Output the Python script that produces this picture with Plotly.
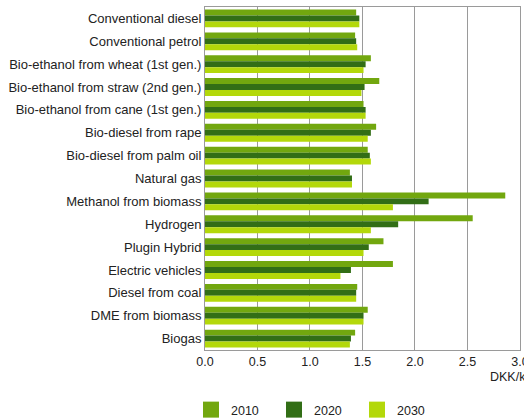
import plotly.graph_objects as go

categories = [
    "Conventional diesel",
    "Conventional petrol",
    "Bio-ethanol from wheat (1st gen.)",
    "Bio-ethanol from straw (2nd gen.)",
    "Bio-ethanol from cane (1st gen.)",
    "Bio-diesel from rape",
    "Bio-diesel from palm oil",
    "Natural gas",
    "Methanol from biomass",
    "Hydrogen",
    "Plugin Hybrid",
    "Electric vehicles",
    "Diesel from coal",
    "DME from biomass",
    "Biogas",
]
v2010 = [1.44, 1.43, 1.58, 1.66, 1.51, 1.63, 1.55, 1.38, 2.86, 2.55, 1.70, 1.79, 1.45, 1.55, 1.43]
v2020 = [1.47, 1.44, 1.53, 1.52, 1.53, 1.58, 1.57, 1.40, 2.13, 1.84, 1.56, 1.39, 1.44, 1.51, 1.39]
v2030 = [1.47, 1.45, 1.51, 1.49, 1.53, 1.55, 1.58, 1.40, 1.79, 1.58, 1.51, 1.29, 1.44, 1.51, 1.38]
series_names = ["2010", "2020", "2030"]
colors = ["#72a70f", "#326e16", "#b3d80a"]
x_ticks = [0.0, 0.5, 1.0, 1.5, 2.0, 2.5, 3.0]
unit_label = "DKK/km"

fig = go.Figure()
for name, vals, col in zip(series_names, [v2010, v2020, v2030], colors):
    fig.add_trace(go.Bar(
        y=categories, x=vals, name=name, orientation="h",
        marker=dict(color=col, line=dict(width=0)),
        showlegend=False,
    ))
    fig.add_trace(go.Scatter(
        x=[None], y=[None], mode="markers", name=name,
        marker=dict(symbol="square", size=20, color=col, line=dict(width=0)),
    ))

fig.update_layout(
    width=524, height=420,
    margin=dict(l=205, r=4, t=7, b=70, autoexpand=False),
    paper_bgcolor="white", plot_bgcolor="white",
    barmode="group", bargap=0.22, bargroupgap=0,
    font=dict(family="Liberation Sans, Arial, sans-serif", size=13, color="#222"),
    showlegend=True,
    legend=dict(
        orientation="h", xref="container", yref="container",
        x=191 / 524, xanchor="left", y=1 - 410 / 420, yanchor="middle",
        font=dict(size=12.5, color="#222"),
        entrywidth=38, entrywidthmode="pixels",
        itemwidth=30, tracegroupgap=0, bgcolor="rgba(0,0,0,0)",
    ),
    xaxis=dict(
        range=[0, 3.0005], tickvals=x_ticks, ticktext=[f"{t:.1f}" for t in x_ticks],
        showgrid=True, gridcolor="#9a9a9a", gridwidth=1,
        showline=True, linecolor="#9a9a9a", linewidth=1, mirror=True,
        zeroline=False, ticks="", tickfont=dict(size=12.5, color="#222"),
        ticklabeloverflow="allow",
        fixedrange=True, automargin=False,
    ),
    yaxis=dict(
        autorange="reversed", showgrid=False, showline=True,
        linecolor="#9a9a9a", linewidth=1, mirror=True, ticks="",
        tickfont=dict(size=13, color="#222"), fixedrange=True, automargin=False,
    ),
    annotations=[dict(
        text=unit_label, xref="paper", yref="paper", x=(488 - 205) / 315, y=-(377 - 350) / 343,
        xanchor="left", yanchor="middle", showarrow=False,
        font=dict(size=12.5, color="#222"),
    )],
)

fig.write_html("out.html")
